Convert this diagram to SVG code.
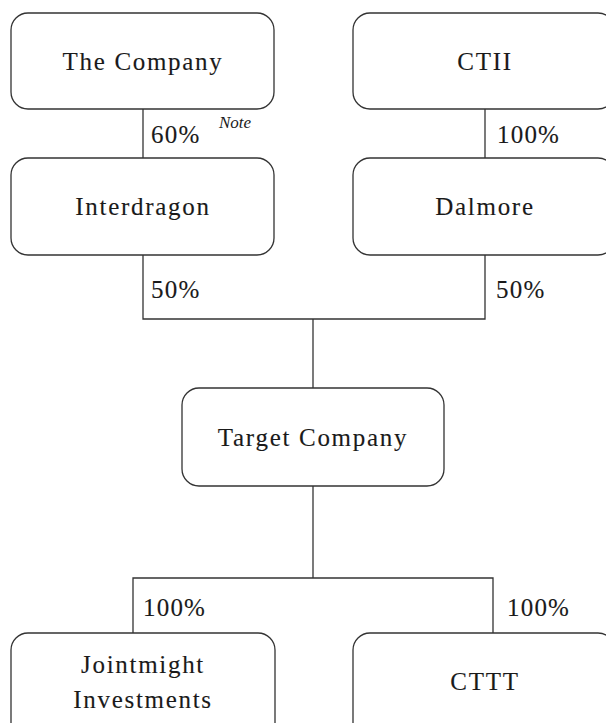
<svg xmlns="http://www.w3.org/2000/svg" width="606" height="723" viewBox="0 0 606 723" font-family="Liberation Serif">
<style>
.box{fill:#fff;stroke:#333;stroke-width:1.3}
.ln{fill:none;stroke:#333;stroke-width:1.3}
.t{font-size:25px;letter-spacing:1.7px;text-anchor:middle;fill:#1a1a1a;stroke:#1a1a1a;stroke-width:0.12}
.p{font-size:25px;letter-spacing:1.2px;fill:#1a1a1a;stroke:#1a1a1a;stroke-width:0.12}
.n{font-size:17px;font-style:italic;fill:#1a1a1a}
</style>
<rect width="606" height="723" fill="#fff"/>
<g id="connectors">
<line class="ln" x1="143" y1="109" x2="143" y2="158"/>
<line class="ln" x1="485" y1="109" x2="485" y2="158"/>
<polyline class="ln" points="143,255 143,319 485,319 485,255"/>
<line class="ln" x1="313" y1="319" x2="313" y2="388"/>
<line class="ln" x1="313" y1="486" x2="313" y2="578"/>
<polyline class="ln" points="133,633 133,578 493,578 493,633"/>
<text class="p" x="151" y="143">60%</text>
<text class="n" x="219" y="128">Note</text>
<text class="p" x="497" y="143">100%</text>
<text class="p" x="151" y="298">50%</text>
<text class="p" x="496" y="298">50%</text>
<text class="p" x="143" y="616">100%</text>
<text class="p" x="507" y="616">100%</text>
</g>
<g id="the-company">
<rect class="box" x="11" y="13" width="263" height="96" rx="17"/>
<text class="t" x="143" y="70">The Company</text>
</g>
<g id="ctii">
<rect class="box" x="353" y="13" width="262" height="96" rx="17"/>
<text class="t" x="485" y="70">CTII</text>
</g>
<g id="interdragon">
<rect class="box" x="11" y="158" width="263" height="97" rx="17"/>
<text class="t" x="143" y="215">Interdragon</text>
</g>
<g id="dalmore">
<rect class="box" x="353" y="158" width="262" height="97" rx="17"/>
<text class="t" x="485" y="215">Dalmore</text>
</g>
<g id="target-company">
<rect class="box" x="182" y="388" width="262" height="98" rx="17"/>
<text class="t" x="313" y="446">Target Company</text>
</g>
<g id="jointmight">
<rect class="box" x="11" y="633" width="264" height="110" rx="17"/>
<text class="t" x="143" y="673">Jointmight</text>
<text class="t" x="143" y="708">Investments</text>
</g>
<g id="cttt">
<rect class="box" x="353" y="633" width="262" height="110" rx="17"/>
<text class="t" x="485" y="690">CTTT</text>
</g>
</svg>
